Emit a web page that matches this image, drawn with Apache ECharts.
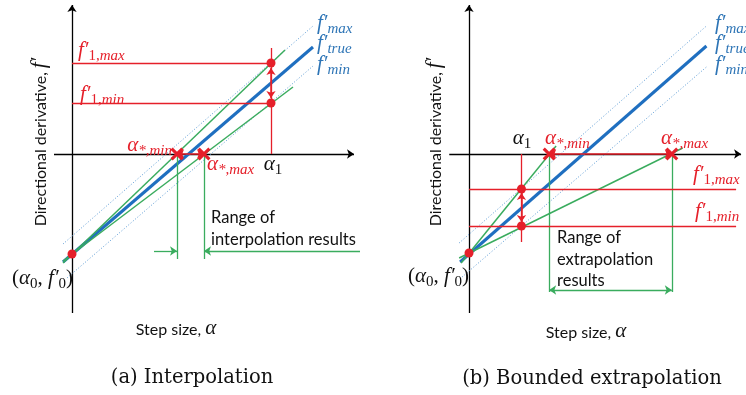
<!DOCTYPE html>
<html>
<head>
<meta charset="utf-8">
<script src="https://cdn.jsdelivr.net/npm/echarts@6/dist/echarts.min.js"></script>
<style>html,body{margin:0;padding:0;background:#fff}#c{width:746px;height:395px}</style>
</head>
<body>
<div id="c"></div>
<script>
// ================= DATA (abstract units, origin at axes crossing) =================
// ---- Panel (a) Interpolation ----
const a_xAxisLine = [[-1.8, 0], [28.2, 0]];
const a_yAxisLine = [[0, -15.9], [0, 14.9]];
const a_fmax  = [[-0.9, -9.0], [24.1, 12.8]];
const a_ftrue = [[-0.9, -10.8], [24.1, 10.7]];
const a_fmin  = [[-0.5, -12.4], [24.1, 8.8]];
const a_origin = [0, -10.0];                 // (alpha0, f'0)
const a_alpha1 = 19.9;
const a_f1 = [9.1, 5.1];                     // f'1,max ; f'1,min
const a_alpha1Top = 10.6;
const a_f1Arrow = [8.6, 5.6];
const a_greenHi = [[-0.9, -10.9], [21.3, 10.4]];
const a_greenLo = [[-0.9, -10.7], [22.1, 6.7]];
const a_aStar = [10.5, 13.2];                // alpha*,min ; alpha*,max
const a_rangeY = -9.7;
const a_rangeBottom = -10.5;
const a_rangeOuter = [8.2, 28.8];

// ---- Panel (b) Bounded extrapolation ----
const b_xAxisLine = [[-2.0, 0], [27.5, 0]];
const b_yAxisLine = [[0, -15.9], [0, 14.9]];
const b_fmax  = [[-1.0, -8.9], [24.0, 12.8]];
const b_ftrue = [[-0.9, -10.8], [24.0, 10.8]];
const b_fmin  = [[-0.7, -12.3], [24.0, 8.7]];
const b_origin = [0, -9.9];
const b_alpha1 = 5.3;
const b_f1 = [-3.5, -7.2];
const b_alpha1Bottom = -8.8;
const b_f1Right = 27.0;
const b_f1Arrow = [-3.9, -6.8];
const b_greenHi = [[-0.8, -10.9], [8.8, 0.8]];
const b_greenLo = [[-1.0, -10.4], [21.6, 0.6]];
const b_aStar = [8.1, 20.5];
const b_rangeY = -13.6;
const b_rangeBottom = -13.8;

// ================= STYLE =================
const RED = '#e5202a', GREEN = '#3aac5e', BLUE = '#1f6fc0', BLUE_L = '#5b9bd5', BLUE_T = '#2e75b6';
const MATH = "'Liberation Serif', serif";
const SANS = "Lato, 'Open Sans', sans-serif";
const CAP = "'DejaVu Serif', serif";
const XMARK = 'path://M0,2L2,0L6,4L10,0L12,2L8,6L12,10L10,12L6,8L2,12L0,10L4,6Z';

function seg(g, coords, color, width, type, sym, z) {
  return {
    type: 'lines', coordinateSystem: 'cartesian2d', xAxisIndex: g, yAxisIndex: g,
    polyline: false, silent: true, animation: false, clip: false,
    symbol: sym || ['none', 'none'], symbolSize: 7,
    lineStyle: { color: color, width: width, type: type || 'solid', opacity: 1, curveness: 0 },
    data: [{ coords: coords }], z: z || 2
  };
}
function dots(g, pts, z) {
  return { type: 'scatter', xAxisIndex: g, yAxisIndex: g, data: pts, symbolSize: 9,
    itemStyle: { color: RED, opacity: 1 }, silent: true, animation: false, z: z || 10, clip: false };
}
function xmarks(g, pts) {
  return { type: 'scatter', xAxisIndex: g, yAxisIndex: g, data: pts, symbol: XMARK, symbolSize: 13,
    itemStyle: { color: RED, opacity: 1 }, silent: true, animation: false, z: 11, clip: false };
}

const series = [];
// ---- panel a ----
series.push(seg(0, a_xAxisLine, '#000', 1.3, 'solid', ['none', 'arrow'], 1));
series.push(seg(0, a_yAxisLine, '#000', 1.3, 'solid', ['none', 'arrow'], 1));
series.push(seg(0, a_fmax, BLUE_L, 1, [1, 2]));
series.push(seg(0, a_fmin, BLUE_L, 1, [1, 2]));
series.push(seg(0, a_ftrue, BLUE, 3));
series.push(seg(0, a_greenHi, GREEN, 1.5, 'solid', null, 3));
series.push(seg(0, a_greenLo, GREEN, 1.5, 'solid', null, 3));
series.push(seg(0, [[0, a_f1[0]], [a_alpha1, a_f1[0]]], RED, 1.3, 'solid', null, 4));
series.push(seg(0, [[0, a_f1[1]], [a_alpha1, a_f1[1]]], RED, 1.3, 'solid', null, 4));
series.push(seg(0, [[a_alpha1, 0], [a_alpha1, a_alpha1Top]], RED, 1.3, 'solid', null, 4));
series.push(seg(0, [[a_alpha1, a_f1Arrow[0]], [a_alpha1, a_f1Arrow[1]]], RED, 1.5, 'solid', ['arrow', 'arrow'], 4));
series.push(seg(0, [[a_aStar[0], 0], [a_aStar[1], 0]], RED, 1.5, 'solid', ['arrow', 'arrow'], 5));
series.push(seg(0, [[a_aStar[0], 0], [a_aStar[0], a_rangeBottom]], GREEN, 1.3, 'solid', null, 3));
series.push(seg(0, [[a_aStar[1], 0], [a_aStar[1], a_rangeBottom]], GREEN, 1.3, 'solid', null, 3));
series.push(seg(0, [[a_rangeOuter[0], a_rangeY], [a_aStar[0], a_rangeY]], GREEN, 1.3, 'solid', ['none', 'arrow'], 3));
series.push(seg(0, [[a_rangeOuter[1], a_rangeY], [a_aStar[1], a_rangeY]], GREEN, 1.3, 'solid', ['none', 'arrow'], 3));
series.push(dots(0, [a_origin, [a_alpha1, a_f1[0]], [a_alpha1, a_f1[1]]]));
series.push(xmarks(0, [[a_aStar[0], 0], [a_aStar[1], 0]]));
// ---- panel b ----
series.push(seg(1, b_xAxisLine, '#000', 1.3, 'solid', ['none', 'arrow'], 1));
series.push(seg(1, b_yAxisLine, '#000', 1.3, 'solid', ['none', 'arrow'], 1));
series.push(seg(1, b_fmax, BLUE_L, 1, [1, 2]));
series.push(seg(1, b_fmin, BLUE_L, 1, [1, 2]));
series.push(seg(1, b_ftrue, BLUE, 3));
series.push(seg(1, b_greenHi, GREEN, 1.5, 'solid', null, 3));
series.push(seg(1, b_greenLo, GREEN, 1.5, 'solid', null, 3));
series.push(seg(1, [[0, b_f1[0]], [b_f1Right, b_f1[0]]], RED, 1.3, 'solid', null, 4));
series.push(seg(1, [[0, b_f1[1]], [b_f1Right, b_f1[1]]], RED, 1.3, 'solid', null, 4));
series.push(seg(1, [[b_alpha1, 0], [b_alpha1, b_alpha1Bottom]], RED, 1.3, 'solid', null, 4));
series.push(seg(1, [[b_alpha1, b_f1Arrow[0]], [b_alpha1, b_f1Arrow[1]]], RED, 1.5, 'solid', ['arrow', 'arrow'], 4));
series.push(seg(1, [[b_aStar[0], 0], [b_aStar[1], 0]], RED, 1.5, 'solid', ['arrow', 'arrow'], 5));
series.push(seg(1, [[b_aStar[0], 0], [b_aStar[0], b_rangeBottom]], GREEN, 1.3, 'solid', null, 3));
series.push(seg(1, [[b_aStar[1], 0], [b_aStar[1], b_rangeBottom]], GREEN, 1.3, 'solid', null, 3));
series.push(seg(1, [[b_aStar[0], b_rangeY], [b_aStar[1], b_rangeY]], GREEN, 1.3, 'solid', ['arrow', 'arrow'], 3));
series.push(dots(1, [b_origin, [b_alpha1, b_f1[0]], [b_alpha1, b_f1[1]]]));
series.push(xmarks(1, [[b_aStar[0], 0], [b_aStar[1], 0]]));

// ================= TEXT =================
const mathRich = (color) => ({
  m: { fontFamily: MATH, fontStyle: 'italic', fontSize: 21, fill: color, color: color, lineHeight: 24, verticalAlign: 'top' },
  r: { fontFamily: MATH, fontSize: 21, fill: color, color: color, lineHeight: 24, verticalAlign: 'top' },
  s: { fontFamily: MATH, fontStyle: 'italic', fontSize: 15, fill: color, color: color, lineHeight: 24, verticalAlign: 'bottom' },
  n: { fontFamily: MATH, fontSize: 15, fill: color, color: color, lineHeight: 24, verticalAlign: 'bottom' },
  t: { fontFamily: SANS, fontSize: 16, fill: color, color: color, lineHeight: 24, verticalAlign: 'middle' }
});
function txt(x, y, text, color, align, rot) {
  return {
    type: 'text', x: x, y: y, rotation: rot || 0, z: 100, silent: true,
    style: {
      text: text, rich: mathRich(color), fill: color,
      align: align || 'left', verticalAlign: 'middle', textAlign: align || 'left', textVerticalAlign: 'middle',
      font: '16px ' + SANS
    }
  };
}
const plain = (x, y, text, align, font, color) => ({
  type: 'text', x: x, y: y, z: 100, silent: true,
  style: { text: text, fill: color || '#111', font: font, align: align, verticalAlign: 'middle',
    textAlign: align, textVerticalAlign: 'middle' }
});

const graphics = [
  // panel a
  txt(41, 142, '{t|Directional derivative, }{m|f′}', '#111', 'center', Math.PI / 2),
  txt(78, 52, '{m|f′}{n|1,}{s|max}', RED, 'left'),
  txt(80, 96, '{m|f′}{n|1,}{s|min}', RED, 'left'),
  txt(172, 147, '{m|α}{s|*,min}', RED, 'right'),
  txt(207, 166, '{m|α}{s|*,max}', RED, 'left'),
  txt(273, 166, '{m|α}{n|1}', '#111', 'center'),
  txt(317, 25, '{m|f′}{s|max}', BLUE_T, 'left'),
  txt(317, 45, '{m|f′}{s|true}', BLUE_T, 'left'),
  txt(317, 66, '{m|f′}{s|min}', BLUE_T, 'left'),
  txt(73, 280, '{r|(}{m|α}{n|0}{r|, }{m|f′}{n|0}{r|)}', '#111', 'right'),
  plain(211, 218, 'Range of', 'left', '16.5px ' + SANS),
  plain(211, 240, 'interpolation results', 'left', '16.5px ' + SANS),
  txt(176, 330, '{t|Step size, }{m|α}', '#111', 'center'),
  plain(192, 378, '(a) Interpolation', 'center', '19.5px ' + CAP),
  // panel b
  txt(436, 142, '{t|Directional derivative, }{m|f′}', '#111', 'center', Math.PI / 2),
  txt(522, 140, '{m|α}{n|1}', '#111', 'center'),
  txt(545, 140, '{m|α}{s|*,min}', RED, 'left'),
  txt(661, 140, '{m|α}{s|*,max}', RED, 'left'),
  txt(715, 25, '{m|f′}{s|max}', BLUE_T, 'left'),
  txt(715, 45, '{m|f′}{s|true}', BLUE_T, 'left'),
  txt(715, 66, '{m|f′}{s|min}', BLUE_T, 'left'),
  txt(693, 176, '{m|f′}{n|1,}{s|max}', RED, 'left'),
  txt(695, 213, '{m|f′}{n|1,}{s|min}', RED, 'left'),
  txt(469, 278, '{r|(}{m|α}{n|0}{r|, }{m|f′}{n|0}{r|)}', '#111', 'right'),
  plain(557, 238, 'Range of', 'left', '16.5px ' + SANS),
  plain(557, 260, 'extrapolation', 'left', '16.5px ' + SANS),
  plain(557, 281, 'results', 'left', '16.5px ' + SANS),
  txt(586, 333, '{t|Step size, }{m|α}', '#111', 'center'),
  plain(592, 379, '(b) Bounded extrapolation', 'center', '19.5px ' + CAP)
];

const chart = echarts.init(document.getElementById('c'), null, { renderer: 'canvas' });
chart.setOption({
  backgroundColor: '#fff',
  animation: false,
  grid: [
    { left: 2, top: 4, width: 370, height: 320 },
    { left: 380, top: 4, width: 370, height: 320 }
  ],
  xAxis: [
    { type: 'value', gridIndex: 0, min: -7, max: 30, show: false },
    { type: 'value', gridIndex: 1, min: -9, max: 28, show: false }
  ],
  yAxis: [
    { type: 'value', gridIndex: 0, min: -17, max: 15, show: false },
    { type: 'value', gridIndex: 1, min: -17, max: 15, show: false }
  ],
  series: series,
  graphic: graphics
});
</script>
</body>
</html>
